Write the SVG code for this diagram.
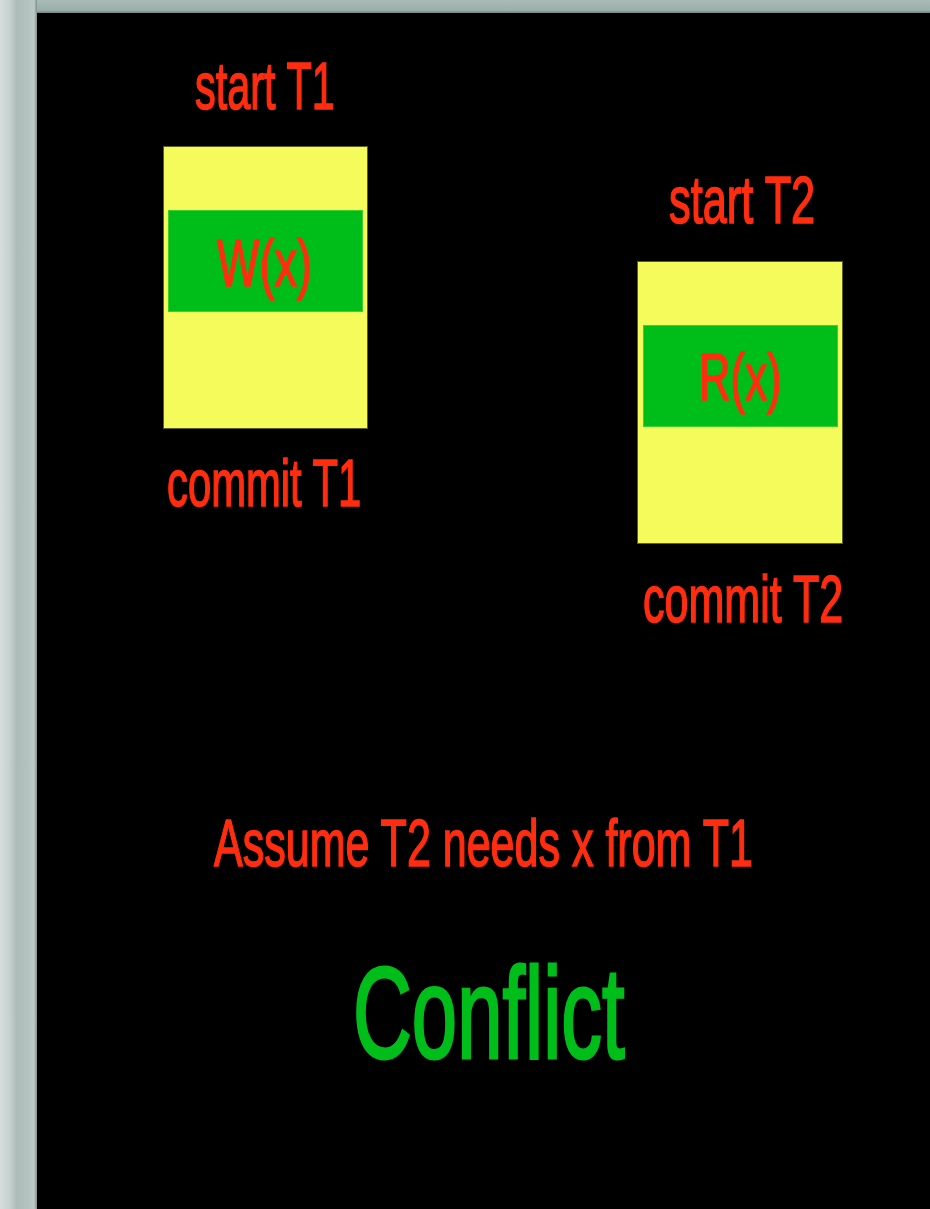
<svg xmlns="http://www.w3.org/2000/svg" width="930" height="1209" viewBox="0 0 930 1209">
  <defs>
    <linearGradient id="leftEdge" gradientUnits="userSpaceOnUse" x1="0" y1="0" x2="37" y2="0">
      <stop offset="0" stop-color="#d5dedc"/>
      <stop offset="0.25" stop-color="#c6d2cf"/>
      <stop offset="0.45" stop-color="#adbcb8"/>
      <stop offset="0.75" stop-color="#b3c2be"/>
      <stop offset="0.92" stop-color="#bccac6"/>
      <stop offset="1" stop-color="#7e8f8b"/>
    </linearGradient>
    <linearGradient id="topEdge" x1="0" y1="0" x2="0" y2="1">
      <stop offset="0" stop-color="#a9bbb7"/>
      <stop offset="0.8" stop-color="#9aaeaa"/>
      <stop offset="1" stop-color="#6e807c"/>
    </linearGradient>
  </defs>
  <style>
    .lbl { font-family: "Liberation Sans", Arial, sans-serif; font-size: 66px; fill: #ff2d10; stroke: #ff2d10; stroke-width: 1.6px; }
    .box { fill: #f4fb5a; stroke: #5c5f1e; stroke-width: 1; }
    .op { fill: #00be1a; stroke: #3fcf2f; stroke-width: 1; }
    .big { font-family: "Liberation Sans", Arial, sans-serif; font-size: 130px; fill: #00be1a; stroke: #00be1a; stroke-width: 3px; }
  </style>
  <rect x="0" y="0" width="930" height="1209" fill="url(#leftEdge)"/>
  <rect x="37" y="0" width="893" height="13" fill="url(#topEdge)"/>
  <rect x="37" y="13" width="893" height="1196" fill="#000000"/>

  <g id="T1">
    <text class="lbl" transform="translate(195,109) scale(0.65,1)" textLength="215" lengthAdjust="spacingAndGlyphs">start T1</text>
    <rect class="box" x="163.5" y="146.5" width="204" height="282"/>
    <g id="W">
      <rect class="op" x="168.5" y="210.5" width="194" height="101"/>
      <text class="lbl" transform="translate(217,286) scale(0.65,1)" textLength="146" lengthAdjust="spacingAndGlyphs">W(x)</text>
    </g>
    <text class="lbl" transform="translate(167,506) scale(0.65,1)" textLength="299" lengthAdjust="spacingAndGlyphs">commit T1</text>
  </g>

  <g id="T2">
    <text class="lbl" transform="translate(669,223) scale(0.65,1)" textLength="225" lengthAdjust="spacingAndGlyphs">start T2</text>
    <rect class="box" x="637.5" y="261.5" width="205" height="282"/>
    <g id="R">
      <rect class="op" x="643.5" y="325.5" width="194" height="101"/>
      <text class="lbl" transform="translate(699,400) scale(0.65,1)" textLength="127" lengthAdjust="spacingAndGlyphs">R(x)</text>
    </g>
    <text class="lbl" transform="translate(643,622) scale(0.65,1)" textLength="308" lengthAdjust="spacingAndGlyphs">commit T2</text>
  </g>

  <g id="note">
    <text class="lbl" transform="translate(214,866) scale(0.65,1)" textLength="829" lengthAdjust="spacingAndGlyphs">Assume T2 needs x from T1</text>
  </g>

  <g id="conflict">
    <text class="big" transform="translate(353,1058) scale(0.65,1)" textLength="418" lengthAdjust="spacingAndGlyphs">Conflict</text>
  </g>

  <g id="connectors"/>
</svg>
